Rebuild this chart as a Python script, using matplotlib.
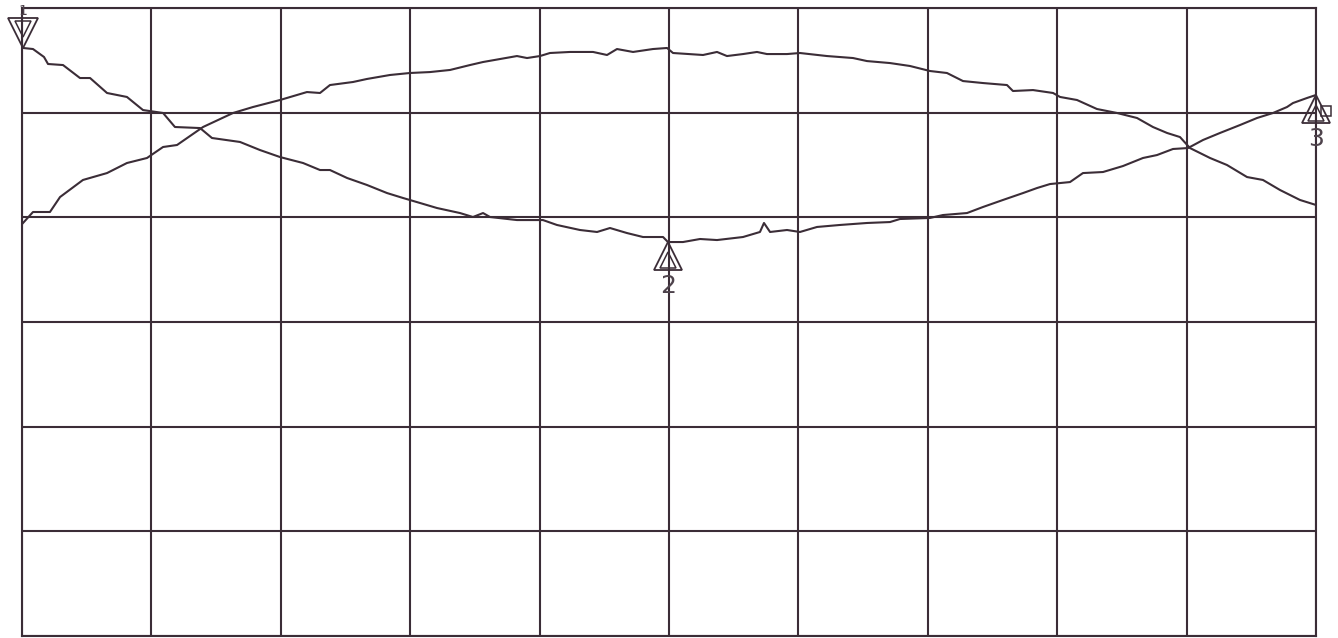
import matplotlib
matplotlib.use('Agg')
import matplotlib.pyplot as plt
from matplotlib.transforms import offset_copy

# screen readings in grid divisions (x: 0..10, y: 0..6 from bottom)
trace1_x = [0.008, 0.085, 0.216, 0.294, 0.471, 0.657, 0.811, 0.966, 1.090, 1.198,
            1.399, 1.631, 1.785, 1.994, 2.202, 2.303, 2.380, 2.558, 2.666, 2.844,
            2.998, 3.153, 3.308, 3.462, 3.563, 3.825, 3.903, 4.003, 4.080, 4.235,
            4.413, 4.521, 4.598, 4.722, 4.876, 4.985, 5.031, 5.263, 5.371, 5.448,
            5.572, 5.680, 5.757, 5.912, 6.012, 6.221, 6.422, 6.530, 6.708, 6.862,
            7.017, 7.148, 7.272, 7.427, 7.612, 7.658, 7.813, 7.968, 8.022, 8.153,
            8.307, 8.462, 8.617, 8.740, 8.849, 8.949, 9.026, 9.181, 9.312, 9.467,
            9.590, 9.722, 9.876, 10.0]
trace1_y = [3.946, 4.051, 4.051, 4.194, 4.357, 4.423, 4.519, 4.567, 4.672, 4.691,
            4.863, 4.997, 5.054, 5.121, 5.197, 5.188, 5.264, 5.293, 5.322, 5.360,
            5.379, 5.388, 5.408, 5.455, 5.484, 5.541, 5.522, 5.541, 5.570, 5.580,
            5.580, 5.551, 5.608, 5.580, 5.608, 5.618, 5.570, 5.551, 5.580, 5.541,
            5.560, 5.580, 5.560, 5.560, 5.570, 5.541, 5.522, 5.493, 5.474, 5.446,
            5.398, 5.379, 5.302, 5.283, 5.264, 5.207, 5.216, 5.188, 5.150, 5.121,
            5.035, 4.997, 4.949, 4.863, 4.806, 4.767, 4.662, 4.567, 4.500, 4.385,
            4.357, 4.261, 4.166, 4.118]

trace2_x = [0.008, 0.085, 0.170, 0.201, 0.317, 0.448, 0.526, 0.657, 0.811, 0.935,
            1.090, 1.182, 1.376, 1.468, 1.685, 1.839, 1.994, 2.172, 2.303, 2.380,
            2.512, 2.666, 2.821, 2.944, 3.076, 3.207, 3.385, 3.485, 3.563, 3.617,
            3.825, 4.026, 4.134, 4.312, 4.444, 4.544, 4.675, 4.799, 4.954, 4.992,
            5.108, 5.240, 5.371, 5.572, 5.703, 5.734, 5.781, 5.912, 6.012, 6.144,
            6.321, 6.530, 6.708, 6.785, 7.017, 7.117, 7.303, 7.427, 7.581, 7.736,
            7.844, 7.944, 8.099, 8.199, 8.354, 8.508, 8.663, 8.771, 8.895, 9.011,
            9.127, 9.258, 9.413, 9.544, 9.668, 9.776, 9.822, 9.930, 10.0]
trace2_y = [5.618, 5.608, 5.532, 5.465, 5.455, 5.331, 5.331, 5.188, 5.150, 5.025,
            4.997, 4.863, 4.853, 4.758, 4.720, 4.643, 4.576, 4.519, 4.452, 4.452,
            4.376, 4.309, 4.232, 4.185, 4.137, 4.089, 4.041, 4.003, 4.041, 4.003,
            3.974, 3.974, 3.927, 3.879, 3.860, 3.898, 3.850, 3.812, 3.812, 3.764,
            3.764, 3.793, 3.783, 3.812, 3.860, 3.946, 3.860, 3.879, 3.860, 3.908,
            3.927, 3.946, 3.955, 3.984, 3.994, 4.022, 4.041, 4.099, 4.166, 4.232,
            4.280, 4.318, 4.337, 4.423, 4.433, 4.490, 4.567, 4.595, 4.653, 4.662,
            4.739, 4.806, 4.882, 4.949, 4.997, 5.054, 5.092, 5.140, 5.169]

# markers sit on trace 2 at these sample indices
marker_labels = ['1', '2', '3']
marker_idx = [0, 39, 78]

ink = '#3b2d37'
label_ink = '#4e434c'

fig = plt.figure(figsize=(13.38, 6.38), dpi=100)
ax = fig.add_axes([22 / 1338, 2 / 638, 1294 / 1338, 628 / 638])
ax.set_xlim(0, 10)
ax.set_ylim(0, 6)
ax.set_xticks(range(11))
ax.set_yticks(range(7))
ax.tick_params(length=0, labelbottom=False, labelleft=False)
ax.grid(True, color=ink, lw=1.5)
for s in ax.spines.values():
    s.set_color(ink)
    s.set_linewidth(1.5)

ax.plot(trace1_x, trace1_y, color=ink, lw=1.5)
ax.plot(trace2_x, trace2_y, color=ink, lw=1.5)

for lab, i in zip(marker_labels, marker_idx):
    mx, my = trace2_x[i], trace2_y[i]
    if lab == '1':
        t_out = offset_copy(ax.transData, fig=fig, x=0, y=15, units='dots')
        t_in = offset_copy(ax.transData, fig=fig, x=0, y=19, units='dots')
        ax.plot(mx, my, marker='v', ms=21, mfc='none', mec=ink, mew=1.3,
                transform=t_out, clip_on=False)
        ax.plot(mx, my, marker='v', ms=12, mfc='none', mec=ink, mew=1.1,
                transform=t_in, clip_on=False)
        t_txt = offset_copy(ax.transData, fig=fig, x=0, y=33, units='dots')
        ax.text(mx, my, lab, transform=t_txt, ha='center', va='baseline',
                fontsize=10, color=label_ink, clip_on=False)
    else:
        t_out = offset_copy(ax.transData, fig=fig, x=0, y=-14, units='dots')
        t_in = offset_copy(ax.transData, fig=fig, x=0, y=-18, units='dots')
        ax.plot(mx, my, marker='^', ms=20, mfc='none', mec=ink, mew=1.3,
                transform=t_out, clip_on=False)
        ax.plot(mx, my, marker='^', ms=11, mfc='none', mec=ink, mew=1.1,
                transform=t_in, clip_on=False)
        t_txt = offset_copy(ax.transData, fig=fig, x=0, y=-32, units='dots')
        ax.text(mx, my, lab, transform=t_txt, ha='center', va='top',
                fontsize=18, color=label_ink, clip_on=False)
        if lab == '3':
            t_box = offset_copy(ax.transData, fig=fig, x=10, y=-16, units='dots')
            ax.plot(mx, my, marker='s', ms=7, mfc='none', mec=ink, mew=1.1,
                    transform=t_box, clip_on=False)

fig.savefig('out.png', dpi=100, facecolor='white')
